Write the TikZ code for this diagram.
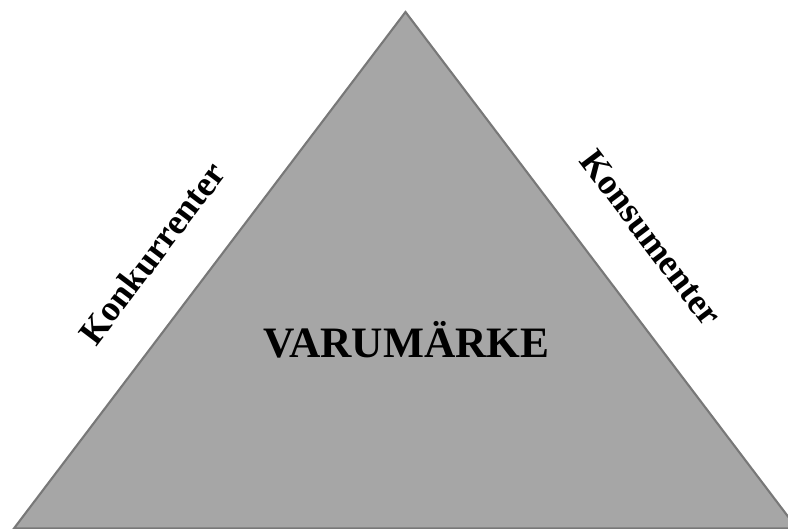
\documentclass[tikz,border=0pt]{standalone}
\usepackage{fontspec}
\setmainfont{Liberation Serif}
\usetikzlibrary{positioning}
\definecolor{pyrfill}{RGB}{166,166,166}
\definecolor{pyrline}{RGB}{120,120,120}

\begin{document}
\begin{tikzpicture}[x=0.02cm, y=0.02cm,
    every node/.style={font=\bfseries, inner sep=0pt},
    sidelabel/.style={font=\fontsize{20.5}{23}\selectfont\bfseries}]
  % frame of the picture
  \useasboundingbox (0,0) rectangle (788,528);
  \clip (0,0) rectangle (788,528);

  % corners of the triangle
  \coordinate (apex) at (405.5,516);
  \coordinate (baseleft) at (13.9,-0.5);
  \coordinate (baseright) at (797.1,-0.5);

  % Triangle
  \filldraw[fill=pyrfill, draw=pyrline, line width=1.2pt, line join=miter]
    (apex) -- (baseright) -- (baseleft) -- cycle;

  % Labels
  \node (brand) [anchor=base, font=\fontsize{24.7}{28}\selectfont\bfseries] at (406.5,171) {VARUMÄRKE};
  \node (rivals) [sidelabel, rotate=52.8] at (152,275) {Konkurrenter};
  \node (buyers) [sidelabel, rotate=-52.8] at (651,290) {Konsumenter};
\end{tikzpicture}
\end{document}
